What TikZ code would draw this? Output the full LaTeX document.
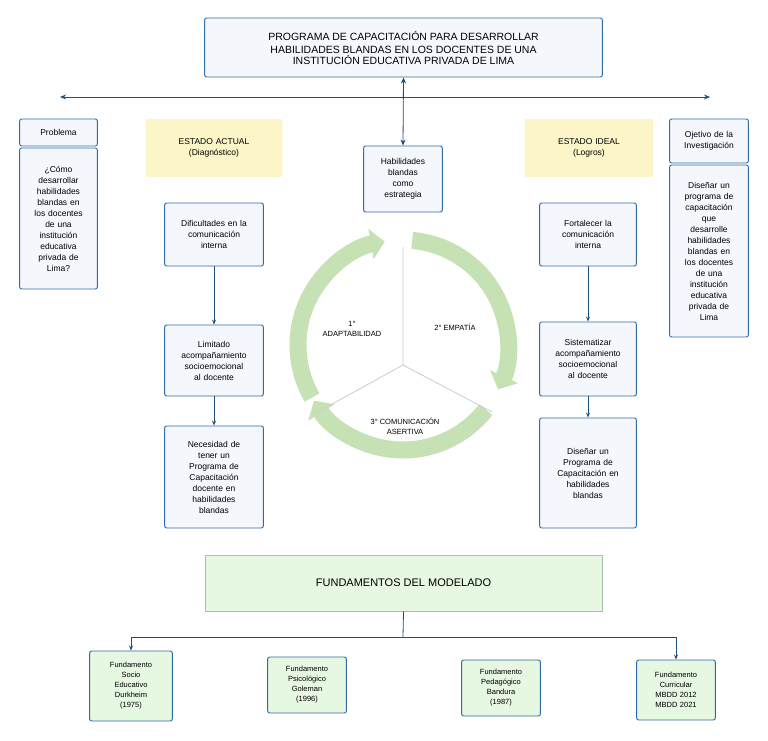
\documentclass[tikz,border=0pt]{standalone}
\usepackage{fontspec}
\setmainfont{Liberation Sans}
\usetikzlibrary{arrows.meta,calc}
\definecolor{bd}{HTML}{2F6CA8}
\definecolor{bf}{HTML}{F4F8FD}
\definecolor{yf}{HTML}{FCF5C7}
\definecolor{gf}{HTML}{E6F7E2}
\definecolor{gb}{HTML}{6C9A6C}
\definecolor{ring}{HTML}{C6E2B4}
\definecolor{ln}{HTML}{1F4E79}
\begin{document}
\begin{tikzpicture}[x=1pt,y=-1pt,
 bx/.style={draw=bd,line width=0.9pt,fill=bf,rounded corners=2pt,align=center,font=\fontsize{8.5}{11}\selectfont},
 yb/.style={fill=yf,rounded corners=2pt,align=center,font=\fontsize{8.5}{11}\selectfont},
 gx/.style={draw=bd,line width=0.9pt,fill=gf,rounded corners=2pt,align=center,font=\fontsize{7.5}{10}\selectfont},
 con/.style={draw=ln,line width=0.8pt,-{Stealth[length=5pt,width=4pt]}},
 rg/.style={draw=ring,line width=17pt,-{Triangle[length=14pt,width=30pt]}},
 lbl/.style={align=center,font=\fontsize{7.5}{10}\selectfont}]
\useasboundingbox (0,0) rectangle (768,741);
\newcommand\bxat[6]{\node[#1,minimum width=#4-#2,minimum height=#5-#3,text width=#4-#2-6] (#6) at ({(#2+#4)/2},{(#3+#5)/2})}
\bxat{bx}{205}{18}{602}{77}{title}{\fontsize{10.5}{13}\selectfont PROGRAMA DE CAPACITACIÓN PARA DESARROLLAR\\HABILIDADES BLANDAS EN LOS DOCENTES DE UNA\\INSTITUCIÓN EDUCATIVA PRIVADA DE LIMA};
\coordinate (hl) at (60,97); \coordinate (hr) at (710,97);
\draw[draw=ln,line width=0.8pt,{Stealth[length=6pt,width=5pt]}-{Stealth[length=6pt,width=5pt]}] (hl) -- (hr);
\bxat{bx}{364}{146}{442}{212}{hab}{Habilidades\\blandas\\como\\estrategia};
\draw[draw=ln,line width=0.8pt,{Stealth[length=6pt,width=5pt]}-{Stealth[length=6pt,width=5pt]}] (title.south) -- (hab.north);
\bxat{bx}{20}{119}{97}{146}{prob}{Problema};
\bxat{bx}{20}{148}{97}{289}{pq}{¿Cómo\\desarrollar\\habilidades\\blandas en\\los docentes\\de una\\institución\\educativa\\privada de\\Lima?};
\bxat{bx}{670}{119}{748}{163}{obj}{Ojetivo de la\\Investigación};
\bxat{bx}{670}{165}{748}{337}{oq}{Diseñar un\\programa de\\capacitación\\que\\desarrolle\\habilidades\\blandas en\\los docentes\\de una\\institución\\educativa\\privada de\\Lima};
\bxat{yb}{146}{119}{282}{177}{ea}{ESTADO ACTUAL\\(Diagnóstico)};
\bxat{yb}{525}{119}{653}{177}{ei}{ESTADO IDEAL\\(Logros)};
\bxat{bx}{165}{203}{263}{266}{l1}{Dificultades en la\\comunicación\\interna};
\bxat{bx}{165}{325}{263}{396}{l2}{Limitado\\acompañamiento\\socioemocional\\al docente};
\bxat{bx}{165}{426}{263}{528}{l3}{Necesidad de\\tener un\\Programa de\\Capacitación\\docente en\\habilidades\\blandas};
\bxat{bx}{540}{203}{636}{266}{r1}{Fortalecer la\\comunicación\\interna};
\bxat{bx}{540}{322}{636}{396}{r2}{Sistematizar\\acompañamiento\\socioemocional\\al docente};
\bxat{bx}{540}{418}{636}{528}{r3}{Diseñar un\\Programa de\\Capacitación en\\habilidades\\blandas};
\draw[con] (l1) -- (l2); \draw[con] (l2) -- (l3);
\draw[con] (r1) -- (r2); \draw[con] (r2) -- (r3);
% wheel
\coordinate (c) at (403,345);
\coordinate (j) at (403,365);
\draw[rg] ($(c)+(-210:105)$) arc[start angle=-210,end angle=-100,radius=105];
\draw[rg] ($(c)+(-85:105)$) arc[start angle=-85,end angle=25,radius=105];
\draw[rg] ($(c)+(38:105)$) arc[start angle=38,end angle=148,radius=105];
\draw[gray!40,line width=0.8pt] (j) -- (403,247) (j) -- (492,412) (j) -- (314,414);
\node[lbl] (a1) at (352,329) {1°\\ADAPTABILIDAD};
\node[lbl] (a2) at (455,327) {2° EMPATÍA};
\node[lbl] (a3) at (405,426) {3° COMUNICACIÓN\\ASERTIVA};
% bottom
\node[draw=gb!60,line width=0.8pt,fill=gf,minimum width=397,minimum height=56,font=\fontsize{11}{13}\selectfont] (fm) at (403.5,583) {FUNDAMENTOS DEL MODELADO};
\bxat{gx}{90}{651}{172}{721}{f1}{Fundamento\\Socio\\Educativo\\Durkheim\\(1975)};
\bxat{gx}{268}{657}{346}{713}{f2}{Fundamento\\Psicológico\\Goleman\\(1996)};
\bxat{gx}{462}{660}{540}{716}{f3}{Fundamento\\Pedagógico\\Bandura\\(1987)};
\bxat{gx}{637}{660}{715}{720}{f4}{Fundamento\\Curricular\\MBDD 2012\\MBDD 2021};
\coordinate (jb) at (403,637);
\draw[draw=ln,line width=0.8pt] (fm.south) -- (jb);
\draw[con] (jb) -| (f1.north);
\draw[con] (jb) -| (f4.north);
\end{tikzpicture}
\end{document}
